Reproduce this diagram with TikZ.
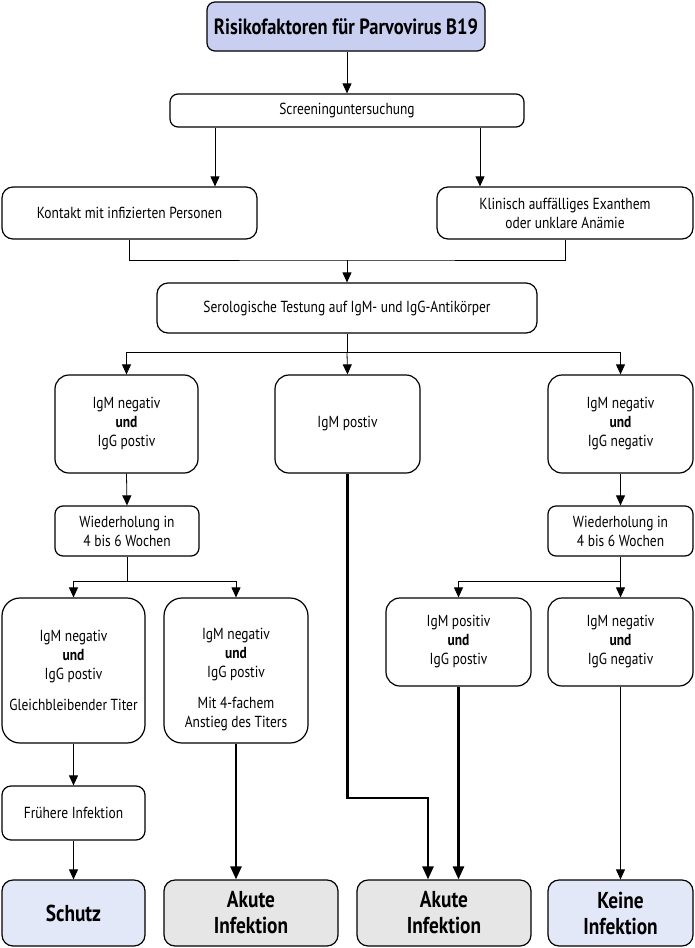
\documentclass[tikz,border=0pt]{standalone}
\usepackage{fontspec}
\setmainfont[FakeStretch=0.84]{PT Sans}
\usetikzlibrary{arrows.meta,calc}
\definecolor{titlefill}{HTML}{C8CFF0}
\definecolor{bluefill}{HTML}{E3E8F8}
\definecolor{grayfill}{HTML}{E6E6E6}
\tikzset{
  boxtext/.style={align=center, inner sep=0pt, font=\fontsize{16}{19}\selectfont},
  box/.style={draw, rounded corners=11pt, line width=1.2pt, boxtext},
  bigbox/.style={box, font=\bfseries\fontsize{23}{26}\selectfont},
  arr/.style={line width=0.8pt, -{Triangle[length=10pt,width=9pt]}},
  thickarr/.style={line width=2.6pt, -{Triangle[length=13pt,width=11pt]}},
  ln/.style={line width=0.8pt},
}
\begin{document}
\begin{tikzpicture}[x=1pt,y=-1pt]
\useasboundingbox (0,0) rectangle (695,948);
% nodes
\node[bigbox, fill=titlefill, rounded corners=8pt, minimum width=278pt, minimum height=49pt, font=\bfseries\fontsize{22}{26}\selectfont] (title) at (346,26.5) {Risikofaktoren für Parvovirus B19};
\node[box, rounded corners=8pt, minimum width=354pt, minimum height=33pt] (screen) at (347,110.5) {Screeninguntersuchung};
\node[box, minimum width=255pt, minimum height=52pt] (kontakt) at (129.5,213) {Kontakt mit infizierten Personen};
\node[box, minimum width=256pt, minimum height=52pt] (klin) at (565,213) {Klinisch auffälliges Exanthem\\oder unklare Anämie};
\node[box, minimum width=380pt, minimum height=50pt] (sero) at (347,308) {Serologische Testung auf IgM- und IgG-Antikörper};
\node[box, rounded corners=14pt, minimum width=143pt, minimum height=98pt] (b1) at (126.5,424) {IgM negativ\\\textbf{und}\\IgG postiv};
\node[box, rounded corners=14pt, minimum width=145pt, minimum height=98pt] (b2) at (347.5,424) {IgM postiv};
\node[box, rounded corners=14pt, minimum width=145pt, minimum height=98pt] (b3) at (620.5,424) {IgM negativ\\\textbf{und}\\IgG negativ};
\node[box, rounded corners=8pt, minimum width=144pt, minimum height=50pt] (w1) at (127,531) {Wiederholung in\\4 bis 6 Wochen};
\node[box, rounded corners=8pt, minimum width=145pt, minimum height=50pt] (w2) at (620.5,531) {Wiederholung in\\4 bis 6 Wochen};
\node[box, rounded corners=18pt, minimum width=143pt, minimum height=145pt] (c1) at (73.5,670.5) {IgM negativ\\\textbf{und}\\IgG postiv\\[12pt]Gleichbleibender Titer};
\node[box, rounded corners=18pt, minimum width=144pt, minimum height=145pt,
  label={[boxtext, yshift=-9.5pt]center:{IgM negativ\\\textbf{und}\\IgG postiv\\[12pt]Mit 4-fachem\\Anstieg des Titers}}] (c2) at (236,670.5) {};
\node[box, rounded corners=14pt, minimum width=145pt, minimum height=88pt] (c3) at (458.5,642) {IgM positiv\\\textbf{und}\\IgG postiv};
\node[box, rounded corners=14pt, minimum width=145pt, minimum height=88pt] (c4) at (620.5,642) {IgM negativ\\\textbf{und}\\IgG negativ};
\node[box, rounded corners=9pt, minimum width=143pt, minimum height=54pt] (fr) at (73.5,813) {Frühere Infektion};
\node[bigbox, fill=bluefill, minimum width=143pt, minimum height=66pt] (r1) at (73.5,913) {Schutz};
\node[bigbox, fill=grayfill, minimum width=174pt, minimum height=66pt] (r2) at (251,913) {Akute\\Infektion};
\node[bigbox, fill=grayfill, minimum width=174pt, minimum height=66pt] (r3) at (444,913) {Akute\\Infektion};
\node[bigbox, fill=bluefill, minimum width=145pt, minimum height=66pt] (r4) at (620.5,913) {Keine\\Infektion};
% helper coordinates
\coordinate (xa) at (215,0);
\coordinate (xb) at (480,0);
\coordinate (m1) at (347,260);
\coordinate (m2) at (347,352);
\coordinate (m3) at (127,581);
\coordinate (m4) at (620.5,581);
\coordinate (k1) at (428,798);
% connectors
\draw[arr] (title.south -| screen.north) -- (screen.north);
\draw[arr] (screen.south -| xa) -- (kontakt.north -| xa);
\draw[arr] (screen.south -| xb) -- (klin.north -| xb);
\draw[ln] (kontakt.south) |- (m1) -| (klin.south);
\draw[arr] (m1) -- (sero.north);
\draw[ln] (sero.south) -- (m2);
\draw[arr] (m2) -| (b1.north);
\draw[arr] (m2) -| (b3.north);
\draw[arr] (m2) -- (b2.north);
\draw[arr] (b1.south) -- (w1.north);
\draw[arr] (b3.south) -- (w2.north);
\draw[ln] (w1.south) -- (m3);
\draw[arr] (m3) -| (c1.north);
\draw[arr] (m3) -| (c2.north);
\draw[ln] (w2.south) -- (m4);
\draw[arr] (m4) -| (c3.north);
\draw[arr] (m4) -- (c4.north);
\draw[arr] (c1.south) -- (fr.north);
\draw[arr] (fr.south) -- (r1.north);
\draw[thickarr] (c2.south) -- (c2.south |- r2.north);
\draw[thickarr] (b2.south) |- (k1) -- (k1 |- r3.north);
\draw[thickarr] (c3.south) -- (c3.south |- r3.north);
\draw[arr] (c4.south) -- (r4.north);
\end{tikzpicture}
\end{document}
